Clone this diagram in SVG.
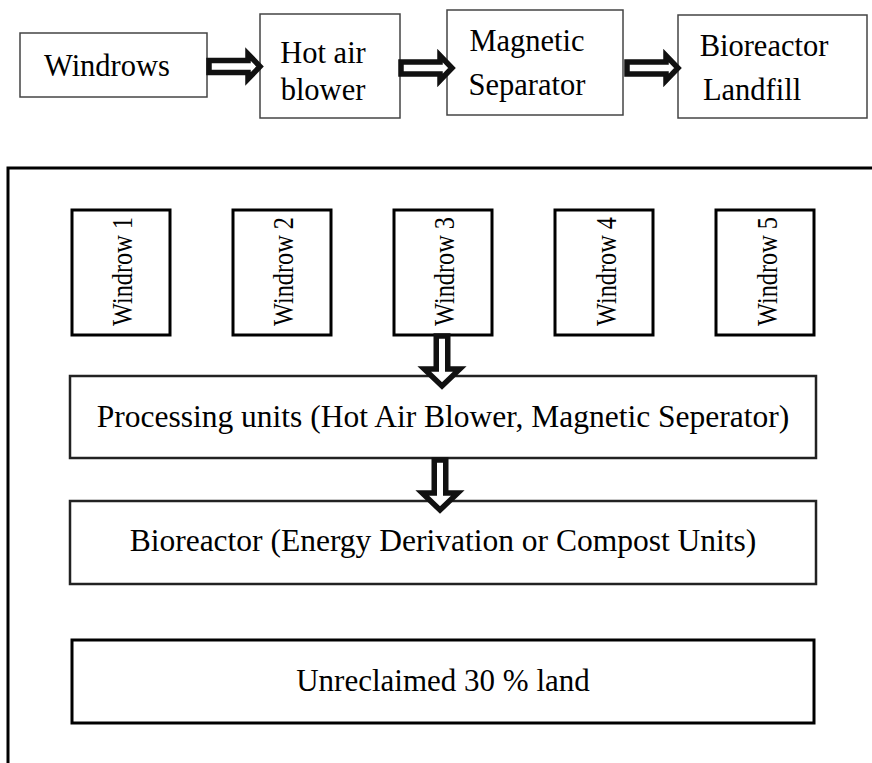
<svg xmlns="http://www.w3.org/2000/svg" xmlns:xlink="http://www.w3.org/1999/xlink" width="872" height="763" viewBox="0 0 872 763">
<style>
.thin{fill:#fff;stroke:#444;stroke-width:1.5}
.thick{fill:#fff;stroke:#000;stroke-width:3}
.mid{fill:#fff;stroke:#222;stroke-width:2.5}
.arrow{fill:#fff;stroke:#111;stroke-width:5.5;stroke-linejoin:miter;stroke-miterlimit:4}
text{font-family:"Liberation Serif","Times New Roman",serif;fill:#000}
.t30{font-size:30.5px}
.t31{font-size:31px}
.t32{font-size:31.5px}
.tw{font-size:29.5px}
.c{text-anchor:middle}
</style>
<defs>
<path id="harrow" d="M0,-6 H39 V-12.5 L51,0 L39,12.5 V6 H0 Z"/>
<path id="varrow" d="M-5.75,0 V33 H-17.75 L0,50 L17.75,33 H5.75 V0 Z"/>
</defs>
<rect width="872" height="763" fill="#fff"/>
<rect id="outer" x="8" y="168" width="900" height="700" fill="none" stroke="#000" stroke-width="3"/>

<g id="windrows"><rect class="thin" x="20" y="33" width="187" height="64"/><text class="t30 c" x="107" y="76">Windrows</text></g>
<g id="hotair"><rect class="thin" x="260" y="14" width="140" height="104"/><text class="t30 c" x="323" y="63">Hot air</text><text class="t30 c" x="323" y="100">blower</text></g>
<g id="magnetic"><rect class="thin" x="447" y="10" width="176" height="105"/><text class="t30 c" x="527" y="51">Magnetic</text><text class="t30 c" x="527" y="95">Separator</text></g>
<g id="landfill"><rect class="thin" x="678" y="15" width="189" height="103"/><text class="t30 c" x="764" y="56">Bioreactor</text><text class="t30 c" x="752" y="100">Landfill</text></g>

<g id="w1"><rect class="thick" x="72" y="210" width="98" height="125"/><text class="tw" transform="translate(132,326) rotate(-90)" textLength="109" lengthAdjust="spacingAndGlyphs">Windrow 1</text></g>
<g id="w2"><rect class="thick" x="233" y="210" width="98" height="125"/><text class="tw" transform="translate(293,326) rotate(-90)" textLength="109" lengthAdjust="spacingAndGlyphs">Windrow 2</text></g>
<g id="w3"><rect class="thick" x="394" y="210" width="98" height="125"/><text class="tw" transform="translate(454,326) rotate(-90)" textLength="109" lengthAdjust="spacingAndGlyphs">Windrow 3</text></g>
<g id="w4"><rect class="thick" x="555" y="210" width="98" height="125"/><text class="tw" transform="translate(616,326) rotate(-90)" textLength="109" lengthAdjust="spacingAndGlyphs">Windrow 4</text></g>
<g id="w5"><rect class="thick" x="716" y="210" width="98" height="125"/><text class="tw" transform="translate(777,326) rotate(-90)" textLength="109" lengthAdjust="spacingAndGlyphs">Windrow 5</text></g>

<g id="processing"><rect class="mid" x="70" y="376" width="746" height="82"/><text class="t32 c" x="443" y="427">Processing units (Hot Air Blower, Magnetic Seperator)</text></g>
<g id="bioreactor"><rect class="mid" x="70" y="501" width="746" height="83"/><text class="t32 c" x="443" y="551">Bioreactor (Energy Derivation or Compost Units)</text></g>
<g id="unreclaimed"><rect class="thick" x="72" y="640" width="742" height="83"/><text class="t31 c" x="443" y="691">Unreclaimed 30 % land</text></g>

<g id="connectors">
<use xlink:href="#harrow" class="arrow" transform="translate(209,66.5)"/>
<use xlink:href="#harrow" class="arrow" transform="translate(401,68)"/>
<use xlink:href="#harrow" class="arrow" transform="translate(627,68)"/>
<use xlink:href="#varrow" class="arrow" transform="translate(442,336)"/>
<use xlink:href="#varrow" class="arrow" transform="translate(440,460)"/>
</g>
</svg>
